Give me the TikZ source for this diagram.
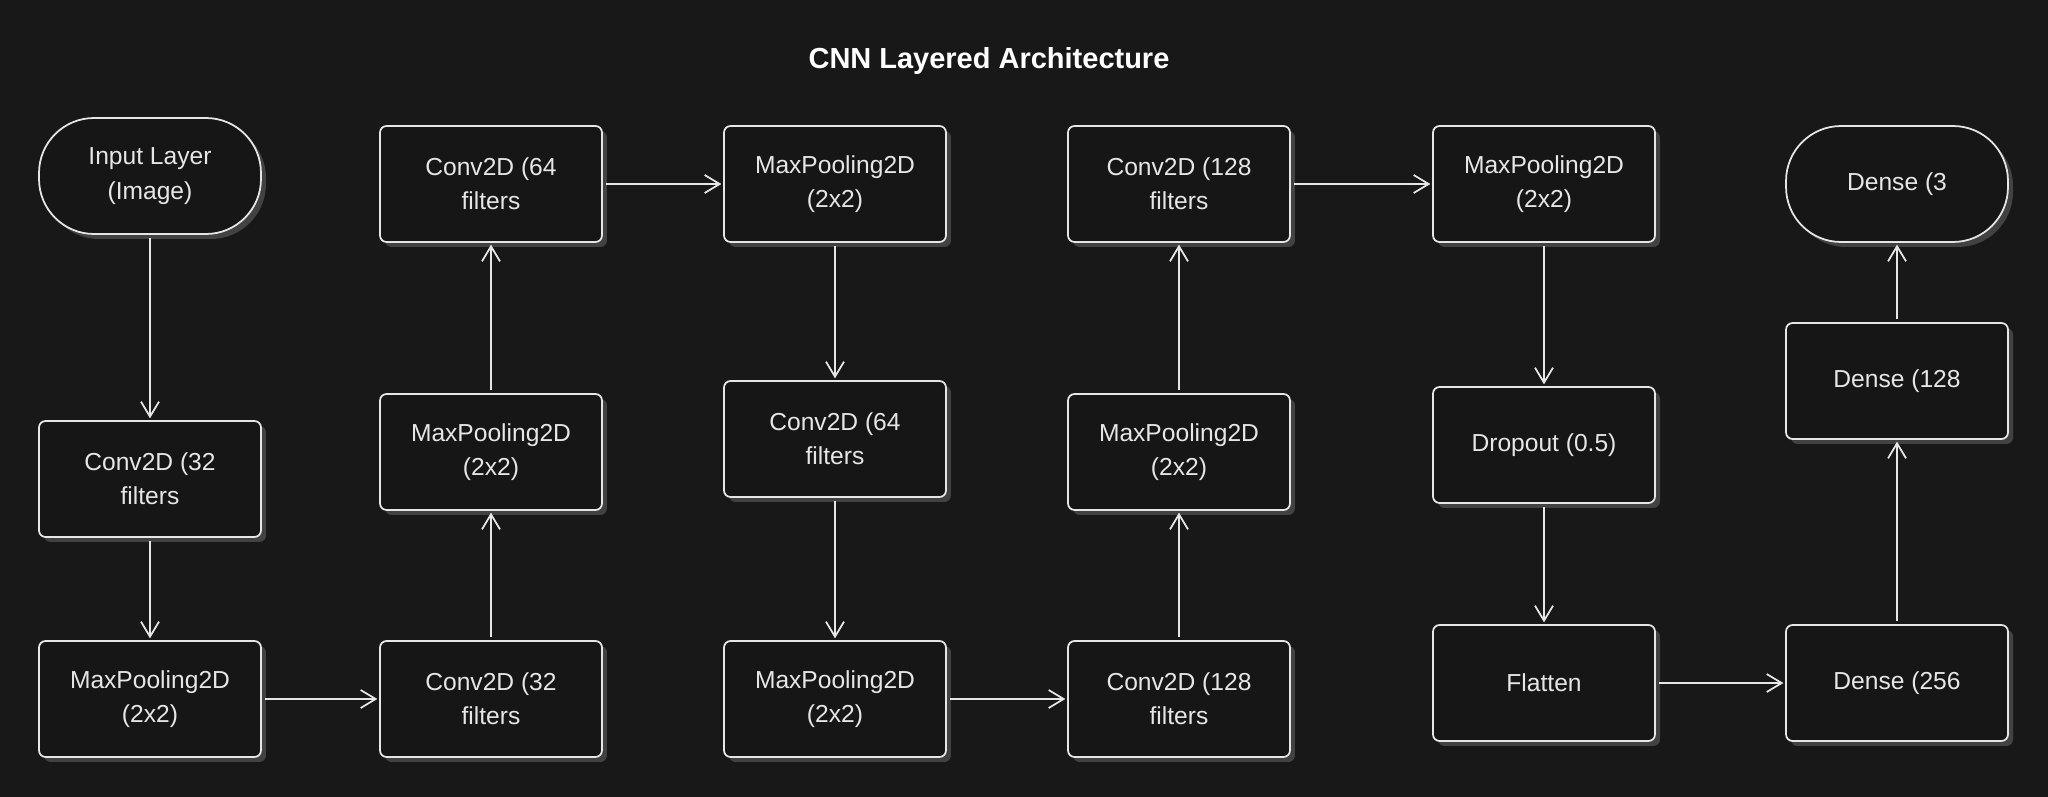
\documentclass[tikz,border=0pt]{standalone}
\usepackage{fontspec}
\setmainfont{Liberation Sans}
\usetikzlibrary{arrows.meta,shadows}
\definecolor{bgc}{HTML}{181818}
\definecolor{boxfill}{HTML}{161616}
\definecolor{linec}{HTML}{E6E6E6}
\definecolor{shadowc}{HTML}{424242}
\tikzset{
  layer/.style={draw=linec, line width=1pt, fill=boxfill, text=linec,
    rounded corners=0.13cm, minimum width=4.44cm, minimum height=2.32cm,
    align=center, font=\fontsize{14}{19.5}\selectfont,
    drop shadow={shadow xshift=0.1cm, shadow yshift=-0.1cm, fill=shadowc, opacity=1}},
  term/.style={layer, rounded corners=1.1cm},
  conn/.style={draw=linec, line width=1pt, -{Straight Barb[length=0.3cm, width=0.36cm, line width=1pt]}, shorten <=2pt, shorten >=1pt}
}
\begin{document}
\begin{tikzpicture}[x=0.02cm, y=-0.02cm]
\fill[bgc] (0,0) rectangle (2048,797);
\useasboundingbox (0,0) rectangle (2048,797);
\node[text=white, font=\fontsize{16.5}{20}\selectfont\bfseries] (title) at (989,61) {CNN Layered Architecture};
% column 1
\node[term] (in) at (150,176) {Input Layer\\(Image)};
\node[layer] (c32a) at (150,479) {Conv2D (32\\filters};
\node[layer] (mp1) at (150,699) {MaxPooling2D\\(2x2)};
% column 2
\node[layer] (c32b) at (491,699) {Conv2D (32\\filters};
\node[layer] (mp2) at (491,452) {MaxPooling2D\\(2x2)};
\node[layer] (c64a) at (491,184) {Conv2D (64\\filters};
% column 3
\node[layer] (mp3) at (835,184) {MaxPooling2D\\(2x2)};
\node[layer] (c64b) at (835,439) {Conv2D (64\\filters};
\node[layer] (mp4) at (835,699) {MaxPooling2D\\(2x2)};
% column 4
\node[layer] (c128a) at (1179,699) {Conv2D (128\\filters};
\node[layer] (mp5) at (1179,452) {MaxPooling2D\\(2x2)};
\node[layer] (c128b) at (1179,184) {Conv2D (128\\filters};
% column 5
\node[layer] (mp6) at (1544,184) {MaxPooling2D\\(2x2)};
\node[layer] (drop) at (1544,445) {Dropout (0.5)};
\node[layer] (flat) at (1544,683) {Flatten};
% column 6
\node[layer] (d256) at (1897,683) {Dense (256};
\node[layer] (d128) at (1897,381) {Dense (128};
\node[term] (d3) at (1897,184) {Dense (3};
% connectors
\draw[conn] (in) -- (c32a);
\draw[conn] (c32a) -- (mp1);
\draw[conn] (mp1) -- (c32b);
\draw[conn] (c32b) -- (mp2);
\draw[conn] (mp2) -- (c64a);
\draw[conn] (c64a) -- (mp3);
\draw[conn] (mp3) -- (c64b);
\draw[conn] (c64b) -- (mp4);
\draw[conn] (mp4) -- (c128a);
\draw[conn] (c128a) -- (mp5);
\draw[conn] (mp5) -- (c128b);
\draw[conn] (c128b) -- (mp6);
\draw[conn] (mp6) -- (drop);
\draw[conn] (drop) -- (flat);
\draw[conn] (flat) -- (d256);
\draw[conn] (d256) -- (d128);
\draw[conn] (d128) -- (d3);
\end{tikzpicture}
\end{document}
